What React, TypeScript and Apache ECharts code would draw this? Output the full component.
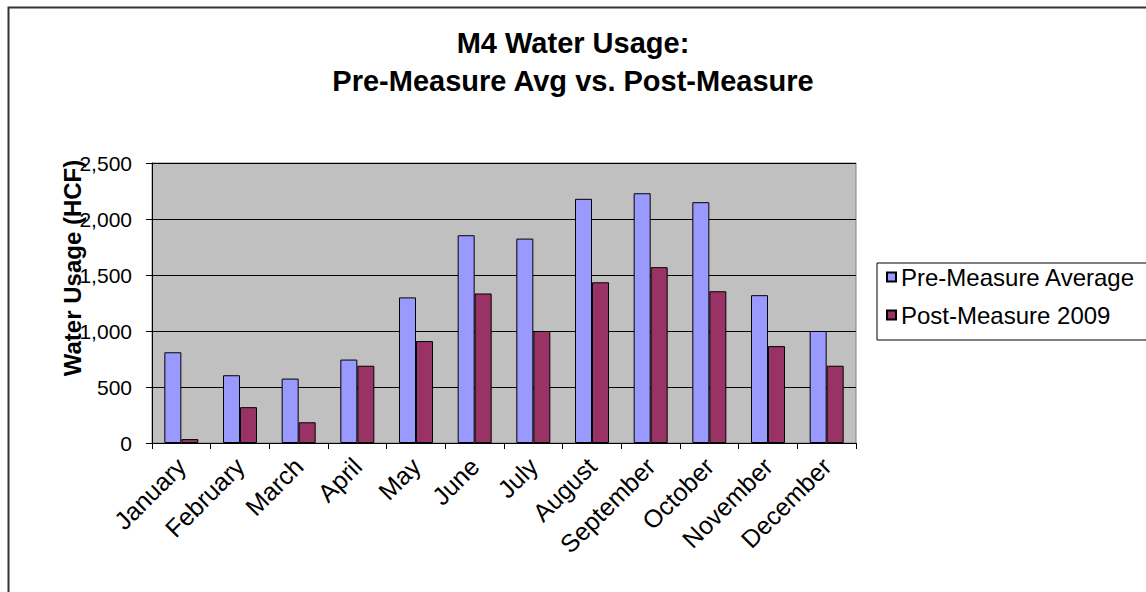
import React, { useEffect, useRef } from "react";
import * as echarts from "echarts";

const months = ["January","February","March","April","May","June","July","August","September","October","November","December"];
const preMeasureAvg = [810, 605, 575, 745, 1300, 1855, 1825, 2180, 2230, 2150, 1320, 1000];
const postMeasure2009 = [35, 320, 185, 690, 910, 1335, 1000, 1435, 1570, 1355, 865, 690];
const yTicks = { min: 0, max: 2500, interval: 500 };
const titleLines = ["M4 Water Usage:", "Pre-Measure Avg vs. Post-Measure"];
const seriesNames = ["Pre-Measure Average", "Post-Measure 2009"];
const yAxisTitle = "Water Usage (HCF)";

const FONT = "'Liberation Sans', Arial, sans-serif";

export default function App() {
  const ref = useRef<HTMLDivElement>(null);
  useEffect(() => {
    if (!ref.current) return;
    const chart = echarts.init(ref.current, undefined, { renderer: "svg" });
    chart.setOption({
      animation: false,
      backgroundColor: "#ffffff",
      title: {
        text: titleLines.join("\n"),
        left: "center",
        top: 19,
        textStyle: { fontFamily: FONT, fontWeight: "bold", fontSize: 29, color: "#000", lineHeight: 38 },
      },
      graphic: [
        { type: "rect", left: 6, top: 5, shape: { x: 0, y: 0, width: 1300, height: 800 }, style: { fill: "none", stroke: "#333", lineWidth: 2 }, z: 100 },
        { type: "rect", shape: { x: 877, y: 263, width: 400, height: 77 }, style: { fill: "#fff", stroke: "#000", lineWidth: 1 }, z: 0 },
        {
          type: "text", x: 72, y: 268, rotation: Math.PI / 2,
          style: { text: yAxisTitle, font: `bold 24px ${FONT}`, fill: "#000", textAlign: "center", textVerticalAlign: "middle" },
          z: 10,
        },
      ],
      legend: {
        orient: "vertical",
        left: 881,
        top: 260,
        itemWidth: 9,
        itemHeight: 9,
        itemGap: 14,
        icon: "rect",
        textStyle: { fontFamily: FONT, fontSize: 24, color: "#000" },
        data: seriesNames,
        z: 5,
      },
      grid: {
        left: 152, top: 163, width: 704, height: 280,
        show: true, backgroundColor: "#C0C0C0", borderColor: "#808080", borderWidth: 1,
      },
      xAxis: {
        type: "category",
        data: months,
        axisLine: { lineStyle: { color: "#000" } },
        axisTick: { show: true, length: 6, lineStyle: { color: "#000" } },
        axisLabel: { rotate: 45, fontFamily: FONT, fontSize: 25, color: "#000", interval: 0, margin: 19 },
      },
      yAxis: {
        type: "value",
        min: yTicks.min, max: yTicks.max, interval: yTicks.interval,
        axisLine: { show: true, lineStyle: { color: "#000" } },
        axisTick: { show: true, length: 6, lineStyle: { color: "#000" } },
        splitLine: { lineStyle: { color: "#000", width: 1 } },
        axisLabel: {
          fontFamily: FONT, fontSize: 21, color: "#000", margin: 20,
          formatter: (v: number) => v.toLocaleString("en-US"),
        },
      },
      series: [
        {
          name: seriesNames[0], type: "bar", data: preMeasureAvg, barWidth: 17, barGap: "0%",
          itemStyle: { color: "#9999FF", borderColor: "#000", borderWidth: 1 },
        },
        {
          name: seriesNames[1], type: "bar", data: postMeasure2009, barWidth: 17,
          itemStyle: { color: "#993366", borderColor: "#000", borderWidth: 1 },
        },
      ],
    });
    return () => chart.dispose();
  }, []);
  return <div ref={ref} style={{ position: "fixed", left: 0, top: 0, width: 1146, height: 592 }} />;
}
